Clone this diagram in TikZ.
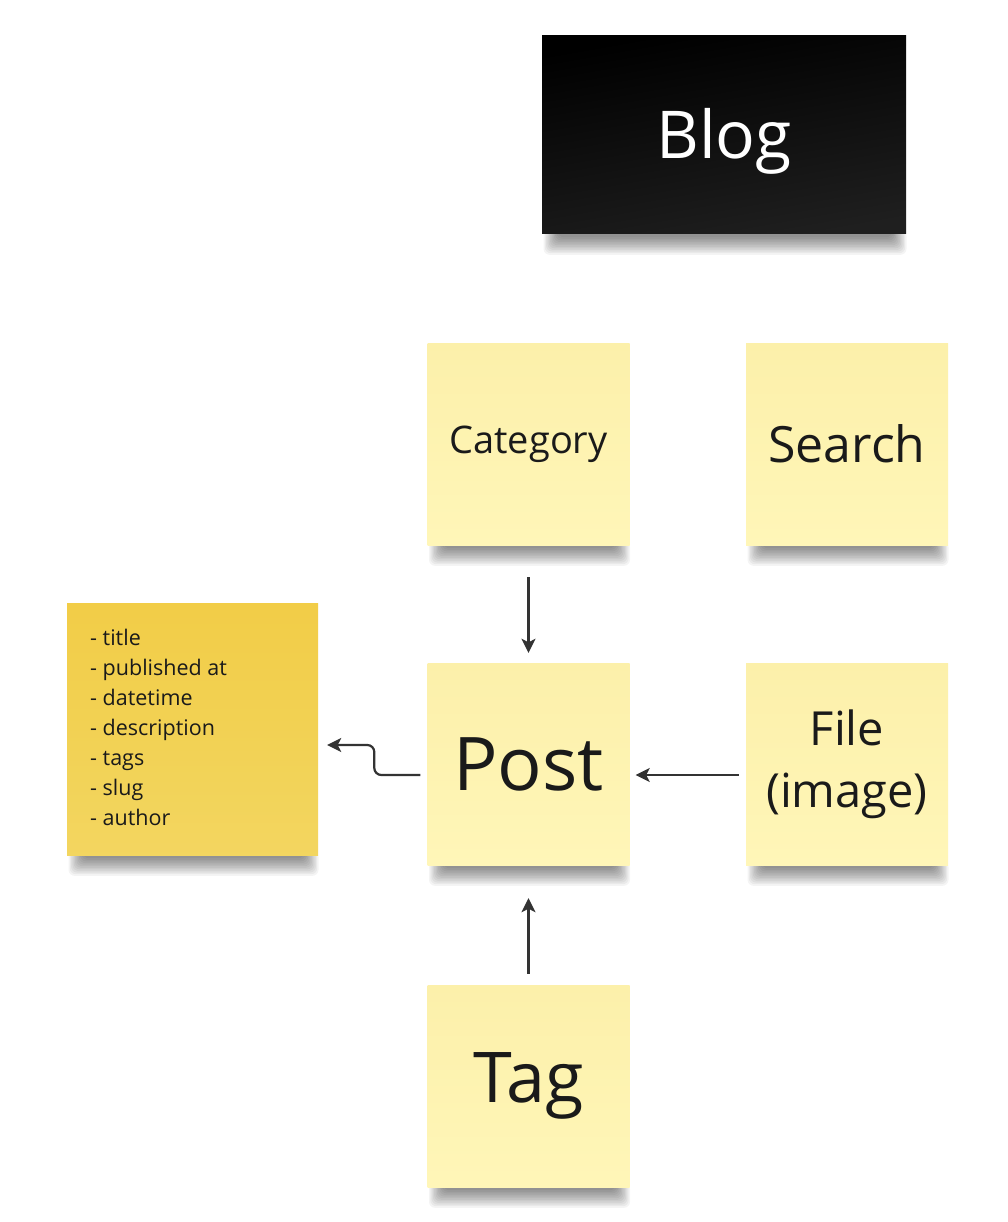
\documentclass[tikz,border=0pt]{standalone}
\usepackage{fontspec}
\setmainfont{Open Sans}
\usetikzlibrary{arrows.meta}
\pgfdeclarelayer{bg}
\pgfdeclarelayer{shadowl}
\pgfsetlayers{bg,shadowl,main}
\definecolor{sticky}{HTML}{FFF6B8}
\definecolor{stickytop}{HTML}{FCF0AA}
\definecolor{darknote}{HTML}{F1D04A}
\definecolor{ink}{HTML}{1A1A1A}
\definecolor{arrowc}{HTML}{333333}
\tikzset{
  notebox/.style={minimum width=202pt, minimum height=202pt, inner sep=0pt,
    top color=stickytop, bottom color=sticky, text=ink, align=center},
  conn/.style={draw=arrowc, line width=2.2pt,
    -{Stealth[length=14pt,width=14pt,inset=3.5pt]}},
  fs/.style 2 args={font=\fontsize{#1}{#2}\selectfont},
  shadowpiece/.style={fill=black, fill opacity=0.045, draw=none, rounded corners=6pt}
}
\newcommand{\mynoteshadow}[1]{%
  \begin{pgfonlayer}{shadowl}
    \foreach \k in {0,...,11}{
      \path[shadowpiece] ([xshift={16pt-1.3pt*\k}, yshift=4pt]#1.south west)
        rectangle ([xshift={-14pt+1.3pt*\k}, yshift={-3pt-1.6pt*\k}]#1.south east);
    }
  \end{pgfonlayer}}
\begin{document}
\begin{tikzpicture}[x=1pt,y=1pt]
\begin{pgfonlayer}{bg}
\fill[white] (0,0) rectangle (1008,-1222);
\end{pgfonlayer}
\useasboundingbox (0,0) rectangle (1008,-1222);

\node[minimum width=364pt, minimum height=198pt, inner sep=0pt,
  top color=black, bottom color=black!88!white, shading angle=10,
  text=white, fs={66}{80}, text depth=4pt]
  (blog) at (724,-135) {Blog};

\node[notebox, fs={38}{46}] (cat) at (528.5,-444) {Category};
\node[notebox, fs={50}{60}] (search) at (847,-444) {Search};
\node[notebox, fs={74}{88}] (post) at (528.5,-764) {Post};
\node[notebox, fs={47}{62}] (file) at (847,-764) {File\\(image)};
\node[notebox, fs={70}{84}] (tag) at (528.5,-1086) {Tag};

\node[minimum width=251pt, minimum height=252pt, inner sep=0pt,
  top color=darknote!96!orange, bottom color=darknote!88!white]
  (attrs) at (192.5,-729) {};
\node[anchor=north west, inner sep=0pt, align=left, text=ink,
  fs={21.5}{30}] (attrtext) at (90,-629)
  {- title\\- published at\\- datetime\\- description\\- tags\\- slug\\- author};

\mynoteshadow{blog}
\mynoteshadow{cat}
\mynoteshadow{search}
\mynoteshadow{post}
\mynoteshadow{file}
\mynoteshadow{tag}
\mynoteshadow{attrs}

\draw[conn] ([yshift=-32pt]cat.south) -- ([yshift=10pt]post.north);
\draw[conn] ([xshift=-7pt,yshift=-11pt]file.west) -- ([xshift=6pt,yshift=-11pt]post.east);
\draw[conn] ([yshift=11pt]tag.north) -- ([yshift=-33pt]post.south);
\draw[conn, rounded corners=7pt] ([xshift=-7pt,yshift=-11pt]post.west) -- ++(-46pt,0)
  |- ([xshift=9pt,yshift=-16pt]attrs.east);
\end{tikzpicture}
\end{document}
